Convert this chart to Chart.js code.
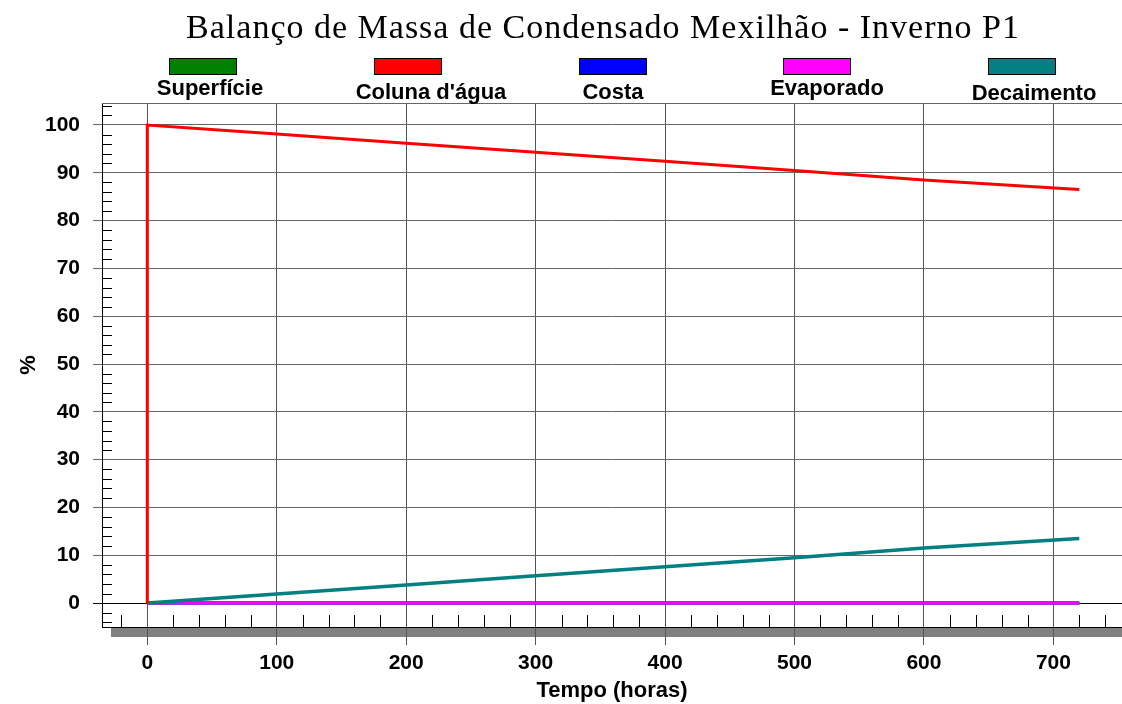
<!DOCTYPE html>
<html>
<head>
<meta charset="utf-8">
<script src="https://cdn.jsdelivr.net/npm/chart.js@4.4.1/dist/chart.umd.min.js"></script>
<style>
  html, body { margin: 0; padding: 0; background: #fff; }
  #wrap { position: relative; width: 1122px; height: 704px; overflow: hidden; }
  #chart { position: absolute; left: 0; top: 0; }
  #title { position: absolute; left: 0; width: 1206px; top: 7px; text-align: center; white-space: nowrap;
           font-family: "Liberation Serif", "Times New Roman", serif; font-size: 34px; line-height: 40px;
           letter-spacing: 1px; color: #000; }
  .leg { position: absolute; width: 240px; text-align: center; }
  .leg .box { width: 66px; height: 15px; border: 1px solid #000; margin: 0 auto; }
  .leg .lbl { position: relative; font-family: "Liberation Sans", Arial, sans-serif; font-weight: bold; font-size: 22px; line-height: 24px; color: #000; white-space: nowrap; }
</style>
</head>
<body>
<div id="wrap">
  <canvas id="chart" width="1122" height="704"></canvas>
  <div id="title">Balanço de Massa de Condensado Mexilhão - Inverno P1</div>
  <div id="legend"></div>
</div>
<script>
// ---- data ----
const seriesNames = ["Superfície", "Coluna d'água", "Costa", "Evaporado", "Decaimento"];
const seriesColors = ["#008000", "#ff0000", "#0000ff", "#ff00ff", "#008080"];
const hours       = [0, 100, 200, 300, 400, 500, 600, 720];
const superficie  = [0, 0, 0, 0, 0, 0, 0, 0];
const colunaAgua  = [100, 98.1, 96.2, 94.3, 92.4, 90.5, 88.5, 86.5];
const costa       = [0, 0, 0, 0, 0, 0, 0, 0];
const evaporado   = [0, 0, 0, 0, 0, 0, 0, 0];
const decaimento  = [0, 1.9, 3.8, 5.7, 7.6, 9.5, 11.5, 13.5];
const colunaAguaInicial = 0; // value just before release at t = 0
const xTickLabels = [0, 100, 200, 300, 400, 500, 600, 700];
const yTickLabels = [0, 10, 20, 30, 40, 50, 60, 70, 80, 90, 100];

// ---- layout / style (not data) ----
const legendCenters = [203, 408, 613, 817, 1022];
const legendLabelShift = [7, 23, 0, 10, 12];
const legendLabelTop = [76, 80, 80, 76, 81];
const legendBoxTop = 58;

// HTML legend
const legendEl = document.getElementById('legend');
seriesNames.forEach((name, i) => {
  const item = document.createElement('div');
  item.className = 'leg';
  item.style.left = (legendCenters[i] - 120) + 'px';
  item.style.top = legendBoxTop + 'px';
  const box = document.createElement('div');
  box.className = 'box';
  box.style.background = seriesColors[i];
  const lbl = document.createElement('div');
  lbl.className = 'lbl';
  lbl.style.marginTop = (legendLabelTop[i] - legendBoxTop - 17) + 'px';
  lbl.style.left = legendLabelShift[i] + 'px';
  lbl.textContent = name;
  item.appendChild(box);
  item.appendChild(lbl);
  legendEl.appendChild(item);
});

function pts(xs, ys) { return xs.map((x, i) => ({ x: x, y: ys[i] })); }

const colunaPts = [{ x: hours[0], y: colunaAguaInicial }].concat(pts(hours, colunaAgua));

// index 0 is drawn on top in Chart.js
const datasets = [
  { label: seriesNames[1], data: colunaPts, borderColor: seriesColors[1], borderWidth: 3 },
  { label: seriesNames[4], data: pts(hours, decaimento), borderColor: seriesColors[4], borderWidth: 3.5 },
  { label: seriesNames[3], data: pts(hours, evaporado), borderColor: seriesColors[3], borderWidth: 3 },
  { label: seriesNames[2], data: pts(hours, costa), borderColor: seriesColors[2], borderWidth: 3 },
  { label: seriesNames[0], data: pts(hours, superficie), borderColor: seriesColors[0], borderWidth: 3 }
].map(d => Object.assign(d, { pointRadius: 0, fill: false, tension: 0, borderCapStyle: 'butt' }));

// Decorations: gray band under axis, top border, minor ticks
const decor = {
  id: 'decor',
  beforeDraw(chart) {
    const { ctx, chartArea: a } = chart;
    ctx.save();
    ctx.fillStyle = '#808080';
    ctx.fillRect(a.left + 9, a.bottom, chart.width - a.left - 9, 10);
    ctx.restore();
  },
  beforeDatasetsDraw(chart) {
    const { ctx, chartArea: a, scales } = chart;
    const xs = scales.x, ys = scales.y;
    ctx.save();
    ctx.strokeStyle = '#000';
    ctx.lineWidth = 1;
    ctx.beginPath();
    for (let v = -20; v <= 760; v += 20) {
      if (v % 100 === 0) continue;
      const px = Math.round(xs.getPixelForValue(v)) + 0.5;
      if (px < a.left || px > a.right) continue;
      ctx.moveTo(px, a.bottom);
      ctx.lineTo(px, a.bottom - 12);
    }
    for (let v = -4; v <= 104; v += 2) {
      if (v % 10 === 0) continue;
      const py = Math.round(ys.getPixelForValue(v)) + 0.5;
      ctx.moveTo(a.left, py);
      ctx.lineTo(a.left + 10, py);
    }
    ctx.stroke();
    ctx.strokeStyle = '#666';
    ctx.beginPath();
    ctx.moveTo(a.left, Math.round(a.top) + 0.5);
    ctx.lineTo(a.right, Math.round(a.top) + 0.5);
    ctx.stroke();
    ctx.restore();
  }
};

const tickFont = { family: "'Liberation Sans', Arial, sans-serif", size: 21, weight: 'bold' };
const titleFont = { family: "'Liberation Sans', Arial, sans-serif", size: 22, weight: 'bold' };

new Chart(document.getElementById('chart'), {
  type: 'line',
  data: { datasets: datasets },
  plugins: [decor],
  options: {
    responsive: false,
    animation: false,
    events: [],
    layout: { padding: { top: 103, right: 0, left: 0, bottom: 0 } },
    plugins: { legend: { display: false }, title: { display: false }, tooltip: { enabled: false } },
    scales: {
      x: {
        type: 'linear',
        min: -35,
        max: 753,
        afterBuildTicks: s => { s.ticks = xTickLabels.map(v => ({ value: v })); },
        afterFit: s => { s.height = 77; },
        ticks: { font: tickFont, color: '#000', padding: 6, maxRotation: 0, autoSkip: false },
        grid: { color: '#555', lineWidth: 1, tickLength: 18, drawTicks: true },
        border: { display: true, color: '#000', width: 1 },
        title: { display: true, text: 'Tempo (horas)', font: titleFont, color: '#000', padding: { top: 0, bottom: 0 } }
      },
      y: {
        type: 'linear',
        min: -5,
        max: 104.6,
        afterBuildTicks: s => { s.ticks = yTickLabels.map(v => ({ value: v })); },
        afterFit: s => { s.width = 102; },
        ticks: { font: tickFont, color: '#000', padding: 13, autoSkip: false },
        grid: { color: c => (c.tick && c.tick.value === 0 ? '#000' : '#666'), lineWidth: 1, tickLength: 9, drawTicks: true },
        border: { display: true, color: '#000', width: 1 },
        title: { display: true, text: '%', font: titleFont, color: '#000', padding: { top: 16, bottom: 0 } }
      }
    }
  }
});
</script>
</body>
</html>
